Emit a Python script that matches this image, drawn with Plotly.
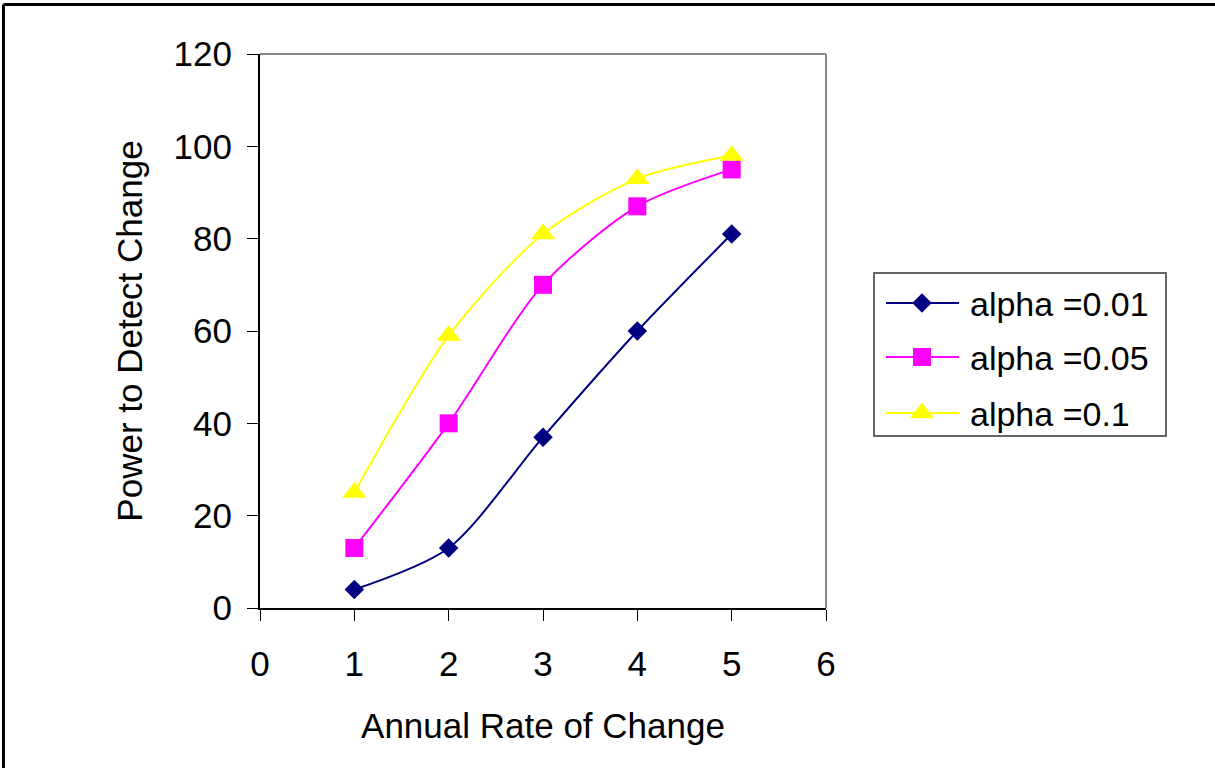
import plotly.graph_objects as go

rate = [1, 2, 3, 4, 5]
power_a001 = [4, 13, 37, 60, 81]
power_a005 = [13, 40, 70, 87, 95]
power_a01 = [25, 59, 81, 93, 98]
series_names = ["alpha =0.01", "alpha =0.05", "alpha =0.1"]
x_ticks = [0, 1, 2, 3, 4, 5, 6]
y_ticks = [0, 20, 40, 60, 80, 100, 120]

FONT = "Liberation Sans, Arial, sans-serif"
FS = 35
W, H = 1215, 768
# plot area in pixels
PX0, PX1, PY0, PY1 = 260, 826, 54, 608


def u(px):
    return px / W


def v(py):
    return 1 - py / H


colors = ["#000080", "#FF00FF", "#FFFF00"]
symbols = ["diamond", "square", "triangle-up"]
sizes = [15, 18, 21]
series = [power_a001, power_a005, power_a01]

fig = go.Figure()
for name, vals, col, sym, sz in zip(series_names, series, colors, symbols, sizes):
    fig.add_trace(go.Scatter(
        x=rate, y=vals, name=name, mode="lines+markers", showlegend=False,
        line=dict(color=col, width=2, shape="spline", smoothing=0.8),
        marker=dict(color=col, symbol=sym, size=sz, line=dict(width=0)),
    ))

axis_common = dict(
    showgrid=False, zeroline=False, showline=True, linecolor="black", linewidth=2,
    ticks="outside", ticklen=11, tickwidth=1, tickcolor="black",
    tickfont=dict(family=FONT, size=FS, color="black"),
    title_font=dict(family=FONT, size=FS, color="black"),
    automargin=False,
)
fig.update_xaxes(range=[0, 6], tickvals=x_ticks, ticklabelstandoff=13,
                 domain=[u(PX0), u(PX1)],
                 title_text="Annual Rate of Change", title_standoff=31, **axis_common)
fig.update_yaxes(range=[0, 120], tickvals=y_ticks, ticklabelstandoff=8,
                 domain=[v(PY1), v(PY0)],
                 title_text="Power to Detect Change", title_standoff=20, **axis_common)

# ---- custom legend (box, sample lines, markers, labels) ----
LBX0, LBX1, LBY0, LBY1 = 874, 1166, 273, 436
row_y = [303, 357, 413]
LN0, LN1 = 886, 959
LMX = 922
TX = 968

# axis pair spanning the legend box, used only for the legend glyphs
fig.update_layout(
    xaxis2=dict(domain=[u(LBX0), u(LBX1)], range=[LBX0, LBX1], anchor="y2",
                visible=False, fixedrange=True),
    yaxis2=dict(domain=[v(LBY1), v(LBY0)], range=[LBY1, LBY0], anchor="x2",
                visible=False, fixedrange=True),
)
for yy, col, sym, sz in zip(row_y, colors, symbols, sizes):
    fig.add_trace(go.Scatter(
        x=[LN0, LMX, LN1], y=[yy, yy, yy], xaxis="x2", yaxis="y2",
        mode="lines", line=dict(color=col, width=2), showlegend=False,
        hoverinfo="skip",
    ))
    fig.add_trace(go.Scatter(
        x=[LMX], y=[yy], xaxis="x2", yaxis="y2", mode="markers",
        marker=dict(color=col, symbol=sym, size=sz, line=dict(width=0)),
        showlegend=False, hoverinfo="skip",
    ))

annotations = []
for yy, name in zip(row_y, series_names):
    annotations.append(dict(
        xref="paper", yref="paper", x=u(TX), y=v(yy + 1), xanchor="left",
        yanchor="middle", text=name, showarrow=False,
        font=dict(family=FONT, size=34, color="black"),
    ))

shapes = [
    # plot area top and right border (gray)
    dict(type="line", xref="paper", yref="paper", x0=u(PX0), y0=v(PY0),
         x1=u(PX1), y1=v(PY0), line=dict(color="#888888", width=2)),
    dict(type="line", xref="paper", yref="paper", x0=u(PX1), y0=v(PY0),
         x1=u(PX1), y1=v(PY1), line=dict(color="#888888", width=2)),
    # chart outer border (top and left visible)
    dict(type="line", xref="paper", yref="paper", x0=u(3.5), y0=v(4.5),
         x1=u(W + 5), y1=v(4.5), line=dict(color="black", width=3)),
    dict(type="line", xref="paper", yref="paper", x0=u(3.5), y0=v(4.5),
         x1=u(3.5), y1=v(H + 5), line=dict(color="black", width=3)),
    # legend box
    dict(type="rect", xref="paper", yref="paper", x0=u(LBX0), y0=v(LBY1),
         x1=u(LBX1), y1=v(LBY0), line=dict(color="#333333", width=1.5),
         layer="below"),
]

fig.update_layout(
    width=W, height=H, autosize=False,
    margin=dict(l=0, r=0, t=0, b=0, pad=0),
    paper_bgcolor="white", plot_bgcolor="rgba(0,0,0,0)",
    font=dict(family=FONT, color="black"),
    shapes=shapes, annotations=annotations,
    showlegend=False,
)

fig.write_html("out.html")
